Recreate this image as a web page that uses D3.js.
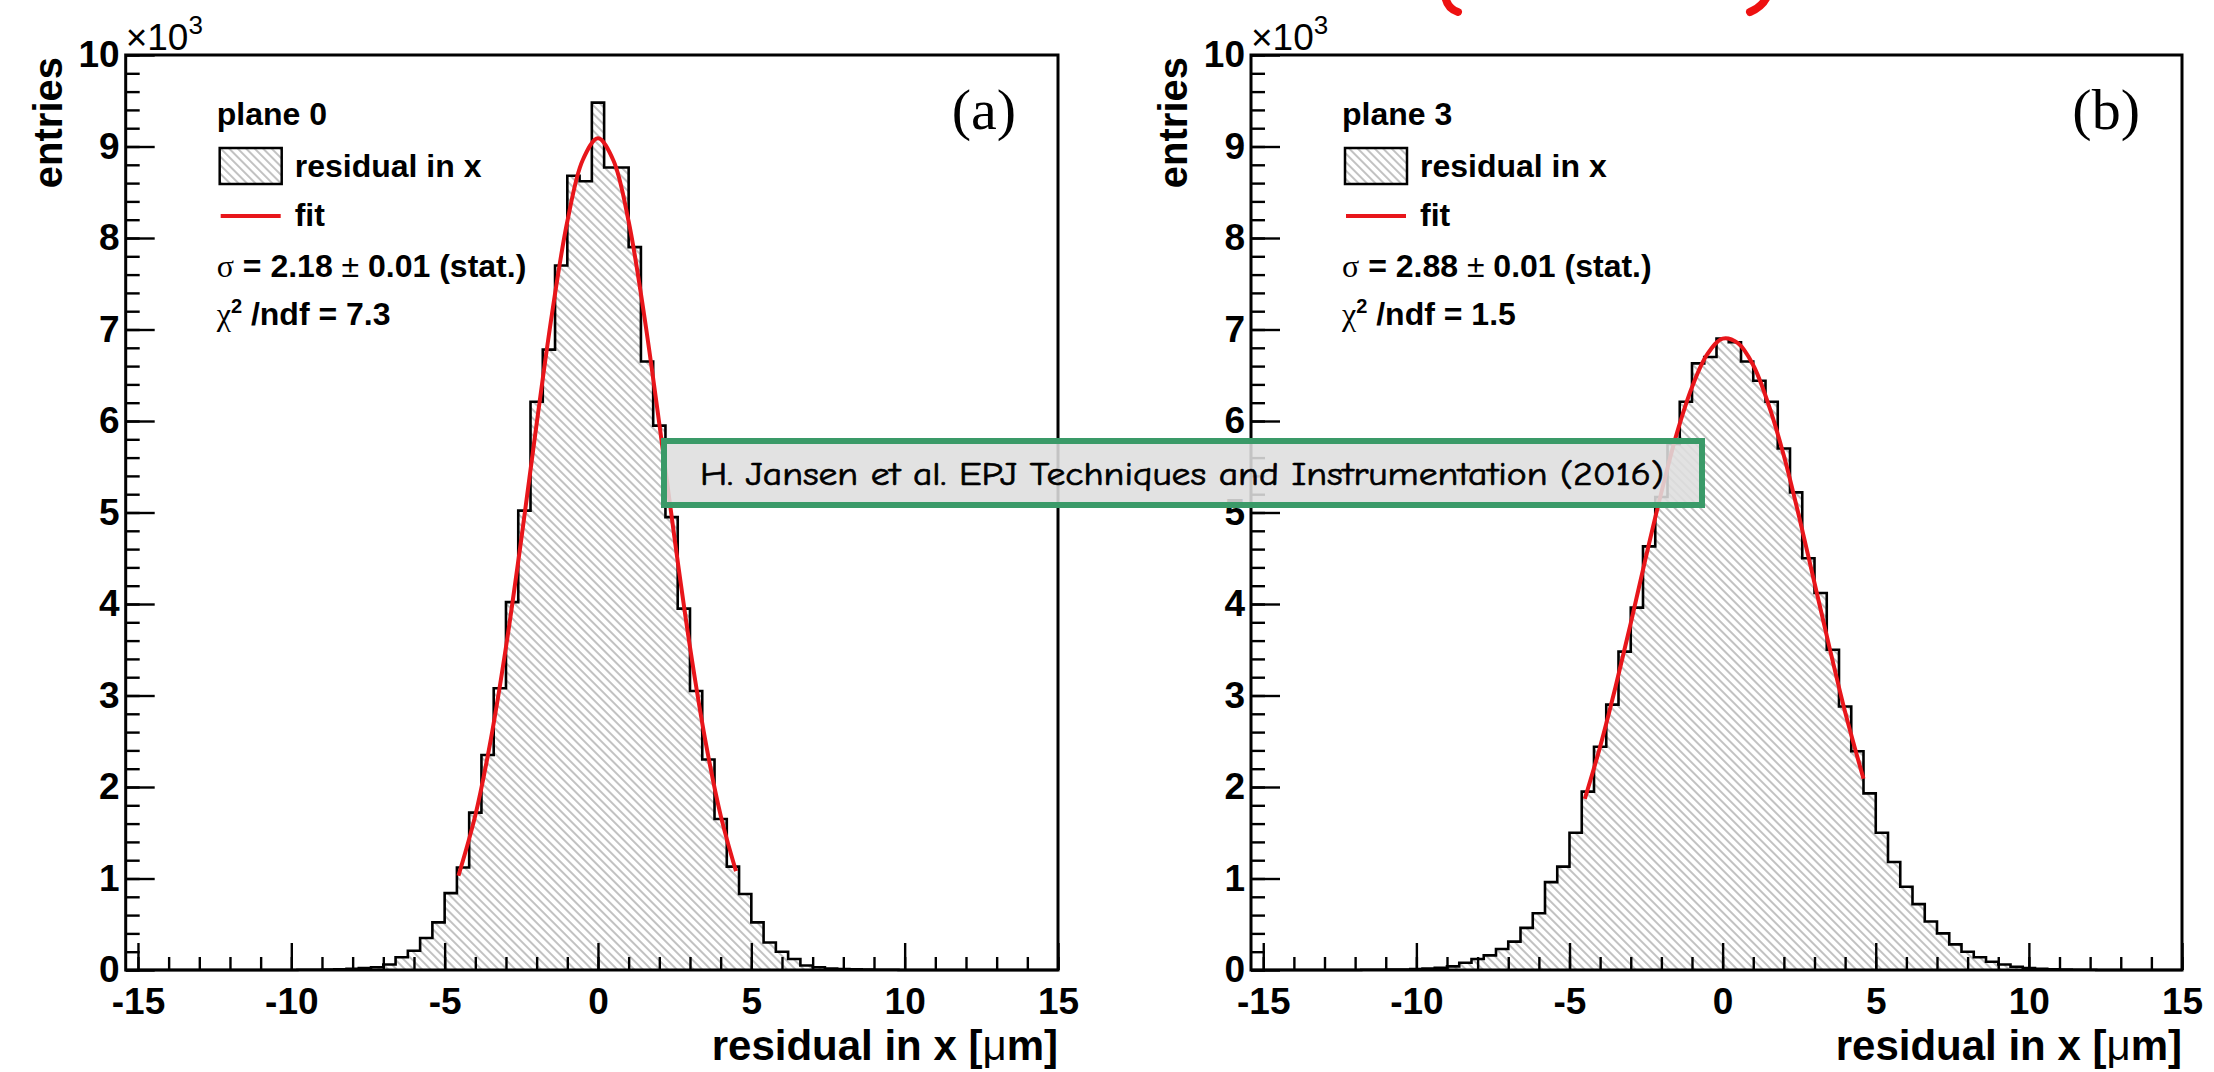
<!DOCTYPE html>
<html>
<head>
<meta charset="utf-8">
<script src="https://cdn.jsdelivr.net/npm/d3@7"></script>
<style>
  body { margin: 0; background: #fff; }
  svg text { font-family: "Liberation Sans", Arial, Helvetica, sans-serif; }
</style>
</head>
<body>
<svg id="chart" width="2214" height="1072"></svg>
<script>
// histogram binning: 76 bins of 0.4 um starting at -15.4 um
const binLo = -15.4;
const binWidth = 0.4;

// entries per bin, in units of 10^3
const plane0Counts = [
  0, 0, 0, 0, 0, 0, 0, 0, 0, 0, 0, 0, 0, 0, 0.002,
  0.003, 0.005, 0.008, 0.012, 0.02, 0.03, 0.06, 0.14, 0.21, 0.35, 0.52, 0.84, 1.12,
  1.72, 2.35, 3.08, 4.02, 5.02, 6.21, 6.78, 7.70, 8.68, 8.62,
  9.48,
  8.77, 8.77, 7.90, 6.65, 5.95, 4.95, 3.95, 3.05, 2.30, 1.65,
  1.13, 0.83, 0.52, 0.30, 0.20, 0.12, 0.05, 0.03, 0.015, 0.01, 0.008, 0.005, 0.003, 0.002,
  0, 0, 0, 0, 0, 0, 0, 0, 0, 0, 0, 0, 0
];
const plane3Counts = [
  0, 0, 0, 0, 0, 0, 0, 0, 0,
  0.002, 0.003, 0.004, 0.006, 0.01, 0.015, 0.025, 0.04, 0.08, 0.12, 0.16, 0.23, 0.31,
  0.46, 0.62, 0.96, 1.13, 1.50, 1.95, 2.44, 2.90, 3.48, 3.96, 4.63, 5.17, 5.75, 6.21,
  6.63, 6.70,
  6.90,
  6.86, 6.65, 6.44, 6.21, 5.70, 5.22, 4.50, 4.12, 3.50, 2.88, 2.39, 1.93, 1.50, 1.18,
  0.91, 0.72, 0.53, 0.40, 0.28, 0.20, 0.14, 0.09, 0.06, 0.035, 0.02, 0.012, 0.008,
  0.005, 0.003, 0.002,
  0, 0, 0, 0, 0, 0, 0
];

// fitted gaussian
const plane0FitX = [-4.55, -4, -3.5, -3, -2.5, -2, -1.5, -1, -0.5, 0, 0.5, 1, 1.5, 2, 2.5, 3, 3.5, 4, 4.5];
const plane0FitY = [1.03, 1.69, 2.51, 3.53, 4.71, 5.97, 7.17, 8.18, 8.85, 9.09, 8.85, 8.18, 7.17, 5.97, 4.71, 3.53, 2.51, 1.69, 1.08];
const plane3FitX = [-4.5, -4, -3.5, -3, -2.5, -2, -1.5, -1, -0.5, 0, 0.5, 1, 1.5, 2, 2.5, 3, 3.5, 4, 4.6];
const plane3FitY = [1.87, 2.44, 3.09, 3.79, 4.52, 5.22, 5.86, 6.37, 6.73, 6.90, 6.85, 6.61, 6.18, 5.62, 4.95, 4.23, 3.51, 2.82, 2.09];

// axis ticks
const xTickLabels = [-15, -10, -5, 0, 5, 10, 15];
const yTickLabels = [0, 1, 2, 3, 4, 5, 6, 7, 8, 9, 10];

const panels = [
  { left: 125.7, right: 1058, counts: plane0Counts, fitX: plane0FitX, fitY: plane0FitY,
    plane: "plane 0", sigma: "2.18", chi2: "7.3", tag: "(a)" },
  { left: 1251, right: 2182, counts: plane3Counts, fitX: plane3FitX, fitY: plane3FitY,
    plane: "plane 3", sigma: "2.88", chi2: "1.5", tag: "(b)" }
];

const frameTop = 55, frameBottom = 970;
const svg = d3.select("#chart");

// hatch like ROOT fill style 3004
const pat = svg.append("defs").append("pattern")
  .attr("id", "hatch")
  .attr("patternUnits", "userSpaceOnUse")
  .attr("width", 6).attr("height", 6)
  .attr("patternTransform", "rotate(-45)");
pat.append("rect").attr("width", 6).attr("height", 6).attr("fill", "#fff");
pat.append("line").attr("x1", 3).attr("y1", 0).attr("x2", 3).attr("y2", 6)
  .attr("stroke", "#a8a8a8").attr("stroke-width", 1.4);

panels.forEach(p => {
  const g = svg.append("g");
  const x = d3.scaleLinear()
    .domain([binLo, binLo + p.counts.length * binWidth])
    .range([p.left, p.right]);
  const y = d3.scaleLinear().domain([0, 10]).range([frameBottom, frameTop]);

  const pts = p.counts.map((c, i) => ({ x: binLo + i * binWidth, y: c }));
  pts.push({ x: binLo + p.counts.length * binWidth, y: p.counts[p.counts.length - 1] });

  g.append("path")
    .datum(pts)
    .attr("fill", "url(#hatch)")
    .attr("d", d3.area().curve(d3.curveStepAfter).x(d => x(d.x)).y0(y(0)).y1(d => y(d.y)));

  g.append("path")
    .datum(pts)
    .attr("fill", "none")
    .attr("stroke", "#000")
    .attr("stroke-width", 2.6)
    .attr("d", d3.line().curve(d3.curveStepAfter).x(d => x(d.x)).y(d => y(d.y)));

  // fit
  g.append("path")
    .datum(p.fitX.map((v, i) => [v, p.fitY[i]]))
    .attr("fill", "none")
    .attr("stroke", "#e8161b")
    .attr("stroke-width", 4)
    .attr("d", d3.line().curve(d3.curveCatmullRom).x(d => x(d[0])).y(d => y(d[1])));

  // x axis, ticks inside
  g.append("g").attr("class", "ax")
    .attr("transform", `translate(0,${frameBottom})`)
    .call(d3.axisBottom(x).tickValues(d3.range(-15, 16, 1)).tickSize(-13).tickFormat(""));
  g.append("g").attr("class", "ax lab")
    .attr("transform", `translate(0,${frameBottom})`)
    .call(d3.axisBottom(x).tickValues(xTickLabels).tickSize(-27).tickPadding(18).tickFormat(d => String(d)));

  // y axis
  g.append("g").attr("class", "ax")
    .attr("transform", `translate(${p.left},0)`)
    .call(d3.axisLeft(y).tickValues(d3.range(0, 10.01, 0.2)).tickSize(-14).tickFormat(""));
  g.append("g").attr("class", "ax lab")
    .attr("transform", `translate(${p.left},0)`)
    .call(d3.axisLeft(y).tickValues(yTickLabels).tickSize(-29).tickPadding(6).tickFormat(d => String(d)));

  g.selectAll(".ax .domain").remove();
  g.selectAll(".ax line").attr("stroke", "#000").attr("stroke-width", 2.4);
  g.selectAll(".lab text")
    .attr("fill", "#000")
    .style("font-size", "37px")
    .style("font-weight", "bold")
    .style("font-family", "'Liberation Sans', Arial, sans-serif");

  // frame
  g.append("rect")
    .attr("x", p.left).attr("y", frameTop)
    .attr("width", p.right - p.left).attr("height", frameBottom - frameTop)
    .attr("fill", "none").attr("stroke", "#000").attr("stroke-width", 3);

  // exponent
  const ex = g.append("text").attr("x", p.left).attr("y", 50).style("font-size", "37px").text("×10");
  ex.append("tspan").attr("dy", -16).style("font-size", "26px").text("3");

  // axis titles
  g.append("text")
    .attr("transform", `translate(${p.left - 64},57) rotate(-90)`)
    .attr("text-anchor", "end")
    .style("font-size", "40px").style("font-weight", "bold")
    .text("entries");
  const xt = g.append("text")
    .attr("x", p.right).attr("y", 1060)
    .attr("text-anchor", "end")
    .style("font-size", "42px").style("font-weight", "bold")
    .text("residual in x [");
  xt.append("tspan").style("font-weight", "normal").text("μ");
  xt.append("tspan").text("m]");

  // panel tag
  g.append("text")
    .attr("x", p.right - 42).attr("y", 129)
    .attr("text-anchor", "end")
    .style("font-family", "'Liberation Serif', 'Times New Roman', serif")
    .style("font-size", "58px")
    .text(p.tag);

  // legend
  const lx = p.left + 91;
  const leg = g.append("g").style("font-size", "32px").style("font-weight", "bold");
  leg.append("text").attr("x", lx).attr("y", 125).text(p.plane);
  leg.append("rect")
    .attr("x", lx + 3).attr("y", 148).attr("width", 62).attr("height", 36)
    .attr("fill", "url(#hatch)").attr("stroke", "#000").attr("stroke-width", 2.5);
  leg.append("text").attr("x", lx + 78).attr("y", 177).text("residual in x");
  leg.append("line")
    .attr("x1", lx + 4).attr("x2", lx + 64).attr("y1", 216).attr("y2", 216)
    .attr("stroke", "#e8161b").attr("stroke-width", 4);
  leg.append("text").attr("x", lx + 78).attr("y", 226).text("fit");
  const s = leg.append("text").attr("x", lx).attr("y", 277);
  s.append("tspan").style("font-weight", "normal").style("font-family", "'Liberation Serif', serif").text("σ");
  s.append("tspan").text(` = ${p.sigma} `);
  s.append("tspan").style("font-weight", "normal").text("±");
  s.append("tspan").text(" 0.01 (stat.)");
  const c = leg.append("text").attr("x", lx).attr("y", 325);
  c.append("tspan").style("font-weight", "normal").style("font-family", "'Liberation Serif', serif").text("χ");
  c.append("tspan").attr("dy", -12).style("font-size", "20px").text("2");
  c.append("tspan").attr("dy", 12).text(` /ndf = ${p.chi2}`);
});

// citation box laid over the figure
svg.append("rect")
  .attr("x", 664).attr("y", 441).attr("width", 1038).attr("height", 64)
  .attr("fill", "rgba(222,222,222,0.88)")
  .attr("stroke", "#3a9a68").attr("stroke-width", 6);
svg.append("text")
  .attr("x", 700).attr("y", 485)
  .attr("textLength", 964).attr("lengthAdjust", "spacingAndGlyphs")
  .style("font-family", "'Comic Sans MS', 'Comic Neue', 'DejaVu Sans', sans-serif")
  .style("font-size", "33px")
  .attr("stroke", "#000").attr("stroke-width", 0.7)
  .text("H. Jansen et al. EPJ Techniques and Instrumentation (2016)");

// red hand-drawn marks cut by the top edge
svg.append("path")
  .attr("d", "M1445,-6 Q1446,8 1458,12")
  .attr("fill", "none").attr("stroke", "#ee1111").attr("stroke-width", 8).attr("stroke-linecap", "round");
svg.append("path")
  .attr("d", "M1768,-6 Q1764,6 1750,12")
  .attr("fill", "none").attr("stroke", "#ee1111").attr("stroke-width", 8).attr("stroke-linecap", "round");
</script>
</body>
</html>
